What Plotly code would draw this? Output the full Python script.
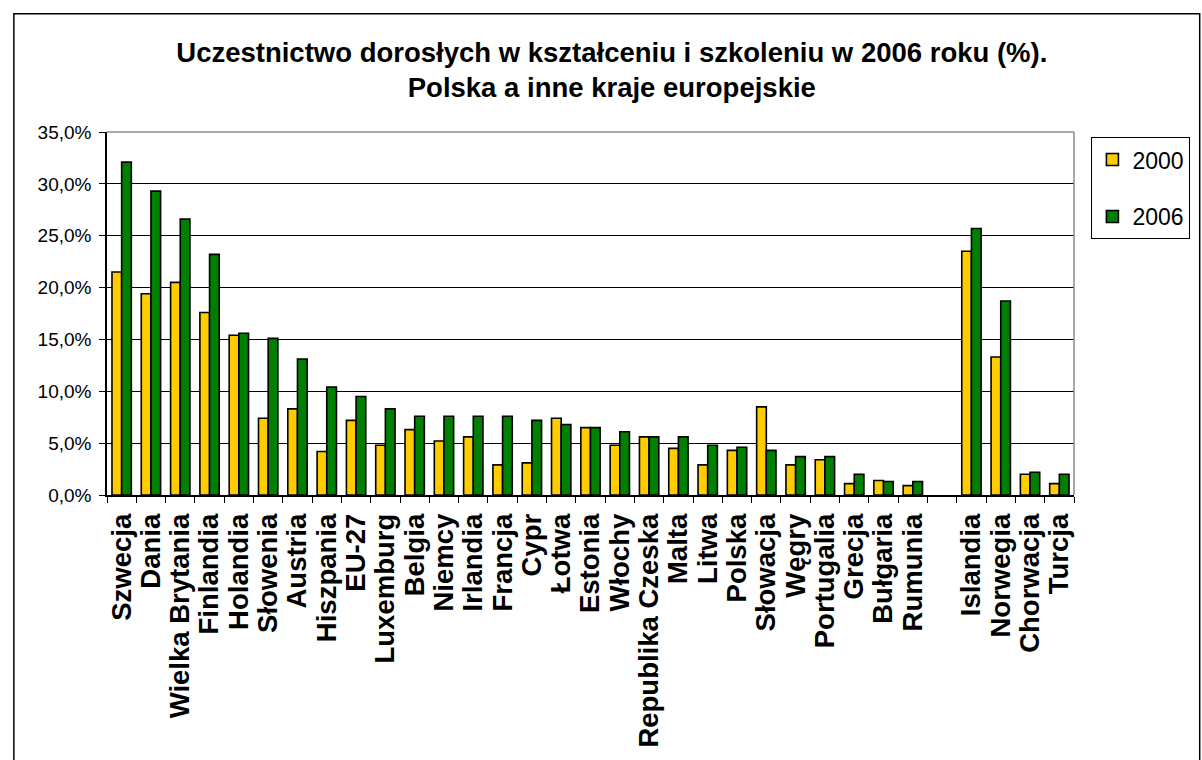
import plotly.graph_objects as go

countries = ["Szwecja", "Dania", "Wielka Brytania", "Finlandia", "Holandia", "Słowenia",
             "Austria", "Hiszpania", "EU-27", "Luxemburg", "Belgia", "Niemcy", "Irlandia",
             "Francja", "Cypr", "Łotwa", "Estonia", "Włochy", "Republika Czeska", "Malta",
             "Litwa", "Polska", "Słowacja", "Węgry", "Portugalia", "Grecja", "Bułgaria",
             "Rumunia", " ", "Islandia", "Norwegia", "Chorwacja", "Turcja"]

y2000 = [21.5, 19.4, 20.5, 17.6, 15.4, 7.4, 8.3, 4.2, 7.2, 4.8, 6.3, 5.2, 5.6,
         2.9, 3.1, 7.4, 6.5, 4.8, 5.6, 4.5, 2.9, 4.3, 8.5, 2.9, 3.4, 1.1, 1.4,
         0.9, None, 23.5, 13.3, 2.0, 1.1]

y2006 = [32.1, 29.3, 26.6, 23.2, 15.6, 15.1, 13.1, 10.4, 9.5, 8.3, 7.6, 7.6, 7.6,
         7.6, 7.2, 6.8, 6.5, 6.1, 5.6, 5.6, 4.8, 4.6, 4.3, 3.7, 3.7, 2.0, 1.3,
         1.3, None, 25.7, 18.7, 2.2, 2.0]

series_names = ["2000", "2006"]
series_colors = ["#FFCC00", "#008000"]

title_text = ("Uczestnictwo dorosłych w kształceniu i szkoleniu w 2006 roku (%).<br>"
              "Polska a inne kraje europejskie")

FONT = "Liberation Sans, Arial, sans-serif"

fig = go.Figure()
for name, vals, col in zip(series_names, [y2000, y2006], series_colors):
    fig.add_trace(go.Bar(
        x=countries, y=vals, name=name, legendgroup=name,
        marker=dict(color=col, line=dict(color="black", width=1.6)),
    ))

fig.update_layout(
    width=1202, height=760, autosize=False,
    margin=dict(l=107, r=108, t=132, b=263, pad=0),
    paper_bgcolor="white", plot_bgcolor="white",
    barmode="group", bargap=0.34, bargroupgap=0.0,
    separators=", ",
    title=dict(text=title_text, x=0.509, xanchor="center", xref="container",
               y=0.919, yanchor="top", yref="container",
               font=dict(family=FONT, size=27.5, color="black", weight="bold")),
    legend=dict(x=1.018, y=0.986, xanchor="left", yanchor="top",
                bordercolor="black", borderwidth=1, bgcolor="white",
                font=dict(family=FONT, size=23, color="black"),
                tracegroupgap=24, traceorder="grouped"),
    xaxis=dict(type="category", tickangle=-90, tickson="boundaries",
               tickmode="linear", tick0=0, dtick=1,
               ticks="outside", ticklen=6, tickcolor="black", tickwidth=1,
               showline=True, linecolor="black", linewidth=1.5,
               showgrid=False, ticklabelstandoff=6,
               tickfont=dict(family=FONT, size=27.5, color="black", weight="bold")),
    yaxis=dict(range=[0, 35], dtick=5, tickformat=".1f", ticksuffix="%",
               ticks="outside", ticklen=6, tickcolor="black", tickwidth=1,
               showline=True, linecolor="black", linewidth=1.5,
               showgrid=True, gridcolor="black", gridwidth=1, zeroline=False,
               ticklabelstandoff=4,
               tickfont=dict(family=FONT, size=19, color="black")),
    shapes=[
        dict(type="line", xref="paper", yref="paper", x0=0, x1=1, y0=1, y1=1,
             line=dict(color="#8c8c8c", width=1.5), layer="above"),
        dict(type="line", xref="paper", yref="paper", x0=1, x1=1, y0=0, y1=1,
             line=dict(color="#8c8c8c", width=1.5), layer="above"),
        dict(type="rect", xref="paper", yref="paper", x0=-0.0963, x1=1.13,
             y0=-0.76, y1=1.326, line=dict(color="black", width=1.5),
             fillcolor="rgba(0,0,0,0)", layer="above"),
    ],
)

fig.write_html("out.html", config={"displayModeBar": False},
               post_script="document.body.style.margin='0';")
